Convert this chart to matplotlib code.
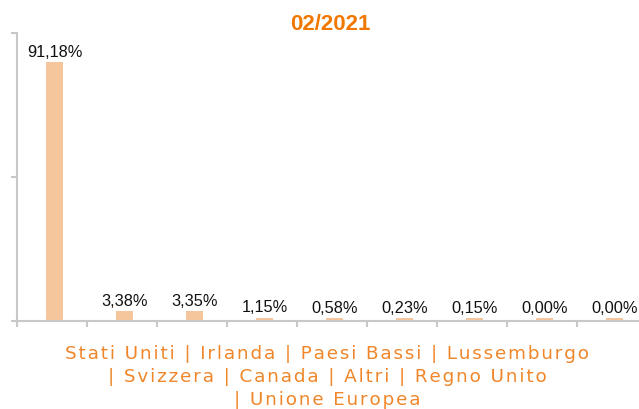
import matplotlib
matplotlib.use('Agg')
import matplotlib.pyplot as plt
import numpy as np

# dati
paesi = ['Stati Uniti', 'Irlanda', 'Paesi Bassi', 'Lussemburgo', 'Svizzera',
         'Canada', 'Altri', 'Regno Unito', 'Unione Europea']
quote = [91.18, 3.38, 3.35, 1.15, 0.58, 0.23, 0.15, 0.00, 0.00]
etichette = ['91,18%', '3,38%', '3,35%', '1,15%', '0,58%', '0,23%', '0,15%', '0,00%', '0,00%']
titolo = '02/2021'

bar_color = '#F5C59C'
axis_color = '#C8C8C8'
title_color = '#F07800'
label_color = '#F0862A'

fig = plt.figure(figsize=(6.39, 4.10), dpi=100)
ax = fig.add_axes([17 / 639, 88 / 410, 622 / 639, 288 / 410])

x = np.arange(len(quote))
# altezza minima visibile per le barre piccole
altezze = [max(q, 1.0) for q in quote]
ax.bar(x, altezze, width=17 / 70, color=bar_color, zorder=2)

for i in range(len(quote)):
    ax.annotate(etichette[i], (x[i], altezze[i]), xytext=(0, 2.5), textcoords='offset points',
                ha='center', va='bottom', fontsize=11.8, family='Liberation Sans', color='#111111')

ymax = 101.4
ax.set_ylim(0, ymax)
ax.set_xlim(-0.536, 8.35)
ax.set_yticks([0, ymax / 2, ymax])
ax.set_yticklabels([])
ax.set_xticks(x - 0.536)
ax.set_xticklabels([])

for s in ['top', 'right']:
    ax.spines[s].set_visible(False)
for s in ['left', 'bottom']:
    ax.spines[s].set_color(axis_color)
    ax.spines[s].set_linewidth(1.5)
ax.tick_params(axis='both', color=axis_color, width=1.5, length=4.5, direction='out')

fig.text(330 / 639, 1 - 25 / 410, titolo, ha='center', va='center', fontsize=16,
         fontweight='bold', family='Liberation Sans', color=title_color)

# etichetta asse x, con spaziatura tra le lettere (hair space)
righe = [' | '.join(paesi[:4]),
         '| ' + ' | '.join(paesi[4:8]),
         '| ' + paesi[8]]
hair = '\u200a'
righe = [hair.join(r) for r in righe]
fig.text(327 / 639, 1 - 377 / 410, '\n'.join(righe), ha='center', va='center',
         fontsize=13.2, family='DejaVu Sans', color=label_color, linespacing=1.33,
         multialignment='center')

fig.savefig('out.png', dpi=100)
